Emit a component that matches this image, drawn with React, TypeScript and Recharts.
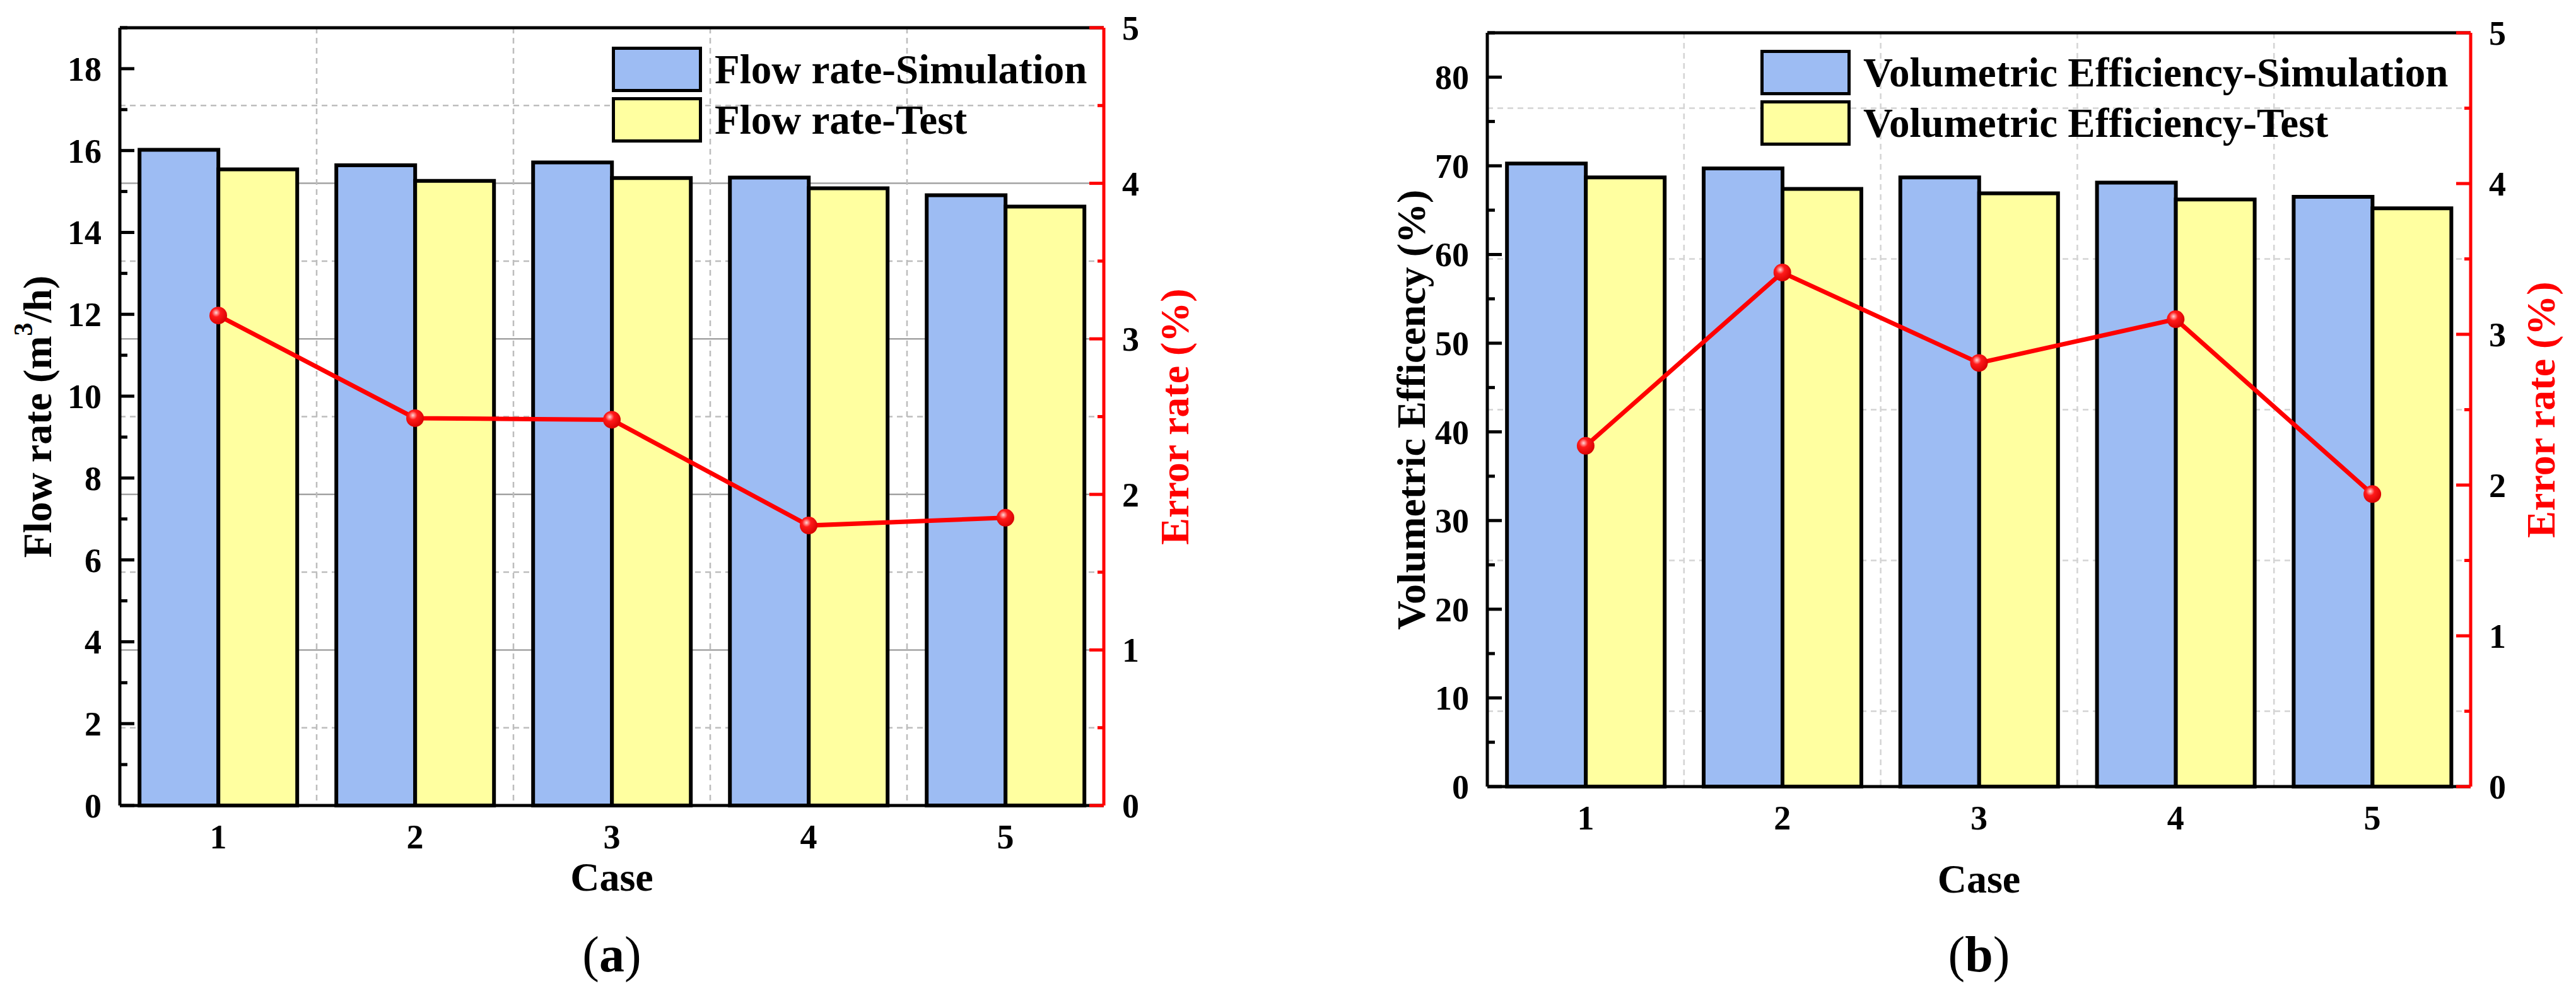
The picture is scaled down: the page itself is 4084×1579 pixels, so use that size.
import React from 'react';
import {
  Bar,
  CartesianGrid,
  ComposedChart,
  Label,
  Legend,
  Line,
  ReferenceLine,
  XAxis,
  YAxis,
} from 'recharts';

const cases = ['1', '2', '3', '4', '5'];

// (a) flow rate
const flowSimulation = [16.02, 15.64, 15.71, 15.34, 14.91];
const flowTest = [15.54, 15.26, 15.33, 15.08, 14.63];
const flowError = [3.15, 2.49, 2.48, 1.8, 1.85];

// (b) volumetric efficiency
const effSimulation = [70.25, 69.7, 68.7, 68.1, 66.5];
const effTest = [68.7, 67.4, 66.9, 66.2, 65.2];
const effError = [2.26, 3.41, 2.81, 3.1, 1.94];

const flowTicks = [0, 1, 2, 3, 4, 5, 6, 7, 8, 9, 10, 11, 12, 13, 14, 15, 16, 17, 18, 19];
const flowMajorTicks = [0, 2, 4, 6, 8, 10, 12, 14, 16, 18];
const effTicks = [0, 5, 10, 15, 20, 25, 30, 35, 40, 45, 50, 55, 60, 65, 70, 75, 80, 85];
const effMajorTicks = [0, 10, 20, 30, 40, 50, 60, 70, 80];
const errorTicks = [0, 0.5, 1, 1.5, 2, 2.5, 3, 3.5, 4, 4.5, 5];
const errorMajorTicks = [0, 1, 2, 3, 4, 5];
const errorGridSolid = [1, 2, 3, 4];
const errorGridDashed = [0.5, 1.5, 2.5, 3.5, 4.5];

const FONT = '"Liberation Serif", "Times New Roman", serif';
const BLUE = '#9dbcf3';
const YELLOW = '#ffffa0';
const RED = '#ff0000';
const CHART_W = 2042;
const CHART_H = 1579;
const AXIS_W = 100;
const XAXIS_H = 60;

const AxisTick = ({ x, y, payload, side, majors, color, majorLen, minorLen }: any) => {
  const isMajor = majors.includes(payload.value);
  const dir = side === 'left' ? 1 : -1;
  return (
    <g>
      <line
        x1={x}
        x2={x + dir * (isMajor ? majorLen : minorLen)}
        y1={y}
        y2={y}
        stroke={color}
        strokeWidth={5}
      />
      {isMajor && (
        <text
          x={x - dir * 29}
          y={y}
          dy={19}
          textAnchor={side === 'left' ? 'end' : 'start'}
          style={{ fontFamily: FONT, fontWeight: 700, fontSize: 54, fill: '#000' }}
        >
          {payload.value}
        </text>
      )}
    </g>
  );
};

const CaseTick = ({ x, y, payload }: any) => (
  <text
    x={x}
    y={y}
    dy={68}
    textAnchor="middle"
    style={{ fontFamily: FONT, fontWeight: 700, fontSize: 54, fill: '#000' }}
  >
    {payload.value}
  </text>
);

const ShinyDot = ({ cx, cy, index, prefix }: any) => {
  if (cx == null || cy == null) return null;
  const id = `${prefix}-shine-${index}`;
  return (
    <g>
      <defs>
        <radialGradient id={id} cx="38%" cy="34%" r="70%">
          <stop offset="0%" stopColor="#ffd6d6" />
          <stop offset="35%" stopColor="#ff1a1a" />
          <stop offset="100%" stopColor="#d40000" />
        </radialGradient>
      </defs>
      <circle cx={cx} cy={cy} r={14} fill={`url(#${id})`} />
    </g>
  );
};

const BoxLegend = ({ payload }: any) => (
  <div style={{ display: 'flex', flexDirection: 'column', gap: 8 }}>
    {(payload || [])
      .filter((entry: any) => entry.dataKey === 'sim' || entry.dataKey === 'test')
      .map((entry: any) => (
        <div key={entry.value} style={{ display: 'flex', alignItems: 'center', height: 72 }}>
          <div
            style={{
              width: 143,
              height: 72,
              boxSizing: 'border-box',
              border: '5px solid #000',
              background: entry.dataKey === 'sim' ? BLUE : YELLOW,
            }}
          />
          <span
            style={{
              marginLeft: 20,
              fontFamily: FONT,
              fontWeight: 700,
              fontSize: 65,
              lineHeight: '72px',
              color: '#000',
              whiteSpace: 'nowrap',
            }}
          >
            {entry.value}
          </span>
        </div>
      ))}
  </div>
);

interface PanelProps {
  prefix: string;
  sim: number[];
  test: number[];
  err: number[];
  simName: string;
  testName: string;
  leftTicks: number[];
  leftMajors: number[];
  leftMax: number;
  leftTitle: React.ReactNode;
  caption: string;
  margin: { top: number; right: number; bottom: number; left: number };
  legendPos: { left: number; top: number };
  leftTitleOffset: number;
  rightTitleOffset: number;
  caseBaseline: number;
  solidGrid: boolean;
  dashColor: string;
}

const Panel = (p: PanelProps) => {
  const data = cases.map((c, i) => ({ case: c, sim: p.sim[i], test: p.test[i], err: p.err[i] }));
  const plotLeft = p.margin.left + AXIS_W;
  const plotRight = CHART_W - p.margin.right - AXIS_W;
  const plotBottom = CHART_H - p.margin.bottom - XAXIS_H;
  const midY = (p.margin.top + plotBottom) / 2;
  const midX = (plotLeft + plotRight) / 2;

  const boundaries = ({ offset }: any) =>
    cases.slice(1).map((_, i) => offset.left + (offset.width * (i + 1)) / cases.length);

  const titleStyle = { fontFamily: FONT, fontWeight: 700, fontSize: 64 };

  return (
    <ComposedChart
      width={CHART_W}
      height={CHART_H}
      data={data}
      margin={p.margin}
      barCategoryGap="10%"
      barGap={0}
    >
      {p.solidGrid && (
        <CartesianGrid
          yAxisId="err"
          horizontalValues={errorGridSolid}
          vertical={false}
          stroke="#a3a3a3"
          strokeWidth={2.5}
        />
      )}
      <CartesianGrid
        yAxisId="err"
        horizontalValues={errorGridDashed}
        verticalCoordinatesGenerator={boundaries}
        stroke={p.dashColor}
        strokeWidth={2.5}
        strokeDasharray="9 7"
      />
      <XAxis
        dataKey="case"
        height={XAXIS_H}
        tickLine={false}
        tickSize={0}
        tickMargin={0}
        interval={0}
        axisLine={{ stroke: '#000', strokeWidth: 5 }}
        tick={(t: any) => <CaseTick {...t} />}
      >
        <Label
          content={() => (
            <g>
              <text
                x={midX}
                y={p.caseBaseline}
                textAnchor="middle"
                style={{ ...titleStyle, fill: '#000' }}
              >
                Case
              </text>
              <text
                x={midX}
                y={1540}
                textAnchor="middle"
                style={{ fontFamily: FONT, fontSize: 80, fill: '#000' }}
              >
                (<tspan style={{ fontWeight: 700 }}>{p.caption}</tspan>)
              </text>
            </g>
          )}
        />
      </XAxis>
      <YAxis
        yAxisId="left"
        type="number"
        width={AXIS_W}
        domain={[0, p.leftMax]}
        ticks={p.leftTicks}
        interval={0}
        tickLine={false}
        tickSize={0}
        tickMargin={0}
        axisLine={{ stroke: '#000', strokeWidth: 5 }}
        tick={(t: any) => (
          <AxisTick {...t} side="left" majors={p.leftMajors} color="#000" majorLen={23} minorLen={12} />
        )}
      >
        <Label
          content={() => (
            <text
              x={plotLeft - p.leftTitleOffset}
              y={midY}
              transform={`rotate(-90 ${plotLeft - p.leftTitleOffset} ${midY})`}
              textAnchor="middle"
              dominantBaseline="central"
              style={{ ...titleStyle, fill: '#000' }}
            >
              {p.leftTitle}
            </text>
          )}
        />
      </YAxis>
      <YAxis
        yAxisId="err"
        orientation="right"
        type="number"
        width={AXIS_W}
        domain={[0, 5]}
        ticks={errorTicks}
        interval={0}
        tickLine={false}
        tickSize={0}
        tickMargin={0}
        axisLine={{ stroke: RED, strokeWidth: 5 }}
        tick={(t: any) => (
          <AxisTick {...t} side="right" majors={errorMajorTicks} color={RED} majorLen={23} minorLen={10} />
        )}
      >
        <Label
          content={() => (
            <text
              x={plotRight + p.rightTitleOffset}
              y={midY}
              transform={`rotate(-90 ${plotRight + p.rightTitleOffset} ${midY})`}
              textAnchor="middle"
              dominantBaseline="central"
              style={{ ...titleStyle, fill: RED }}
            >
              Error rate (%)
            </text>
          )}
        />
      </YAxis>
      <ReferenceLine yAxisId="left" y={p.leftMax} stroke="#000" strokeWidth={5} />
      <Bar
        yAxisId="left"
        dataKey="sim"
        name={p.simName}
        fill={BLUE}
        stroke="#000"
        strokeWidth={6}
        isAnimationActive={false}
      />
      <Bar
        yAxisId="left"
        dataKey="test"
        name={p.testName}
        fill={YELLOW}
        stroke="#000"
        strokeWidth={6}
        isAnimationActive={false}
      />
      <Line
        yAxisId="err"
        dataKey="err"
        stroke={RED}
        strokeWidth={7}
        legendType="none"
        activeDot={false}
        dot={(d: any) => <ShinyDot key={`${p.prefix}-dot-${d.index}`} {...d} prefix={p.prefix} />}
        isAnimationActive={false}
      />
      <Legend
        layout="vertical"
        align="center"
        verticalAlign="middle"
        wrapperStyle={{ left: p.legendPos.left, top: p.legendPos.top, width: 'auto' }}
        content={(l: any) => <BoxLegend {...l} />}
      />
    </ComposedChart>
  );
};

export default function App() {
  return (
    <div style={{ display: 'flex', width: 4084, height: 1579, background: '#fff' }}>
      <style>{'body{margin:0;}'}</style>
      <Panel
        prefix="a"
        sim={flowSimulation}
        test={flowTest}
        err={flowError}
        simName="Flow rate-Simulation"
        testName="Flow rate-Test"
        leftTicks={flowTicks}
        leftMajors={flowMajorTicks}
        leftMax={19}
        leftTitle={
          <>
            Flow rate (m<tspan dy={-22} fontSize={42}>3</tspan>
            <tspan dy={22}>/h)</tspan>
          </>
        }
        caption="a"
        margin={{ top: 44, right: 192, bottom: 242, left: 90 }}
        legendPos={{ left: 970, top: 74 }}
        leftTitleOffset={131}
        rightTitleOffset={112}
        caseBaseline={1412}
        solidGrid={true}
        dashColor="#bdbdbd"
      />
      <Panel
        prefix="b"
        sim={effSimulation}
        test={effTest}
        err={effError}
        simName="Volumetric Efficiency-Simulation"
        testName="Volumetric Efficiency-Test"
        leftTicks={effTicks}
        leftMajors={effMajorTicks}
        leftMax={85}
        leftTitle="Volumetric Efficency (%)"
        caption="b"
        margin={{ top: 52, right: 67, bottom: 272, left: 216 }}
        legendPos={{ left: 749, top: 79 }}
        leftTitleOffset={121}
        rightTitleOffset={111}
        caseBaseline={1415}
        solidGrid={false}
        dashColor="#d4d4d4"
      />
    </div>
  );
}
